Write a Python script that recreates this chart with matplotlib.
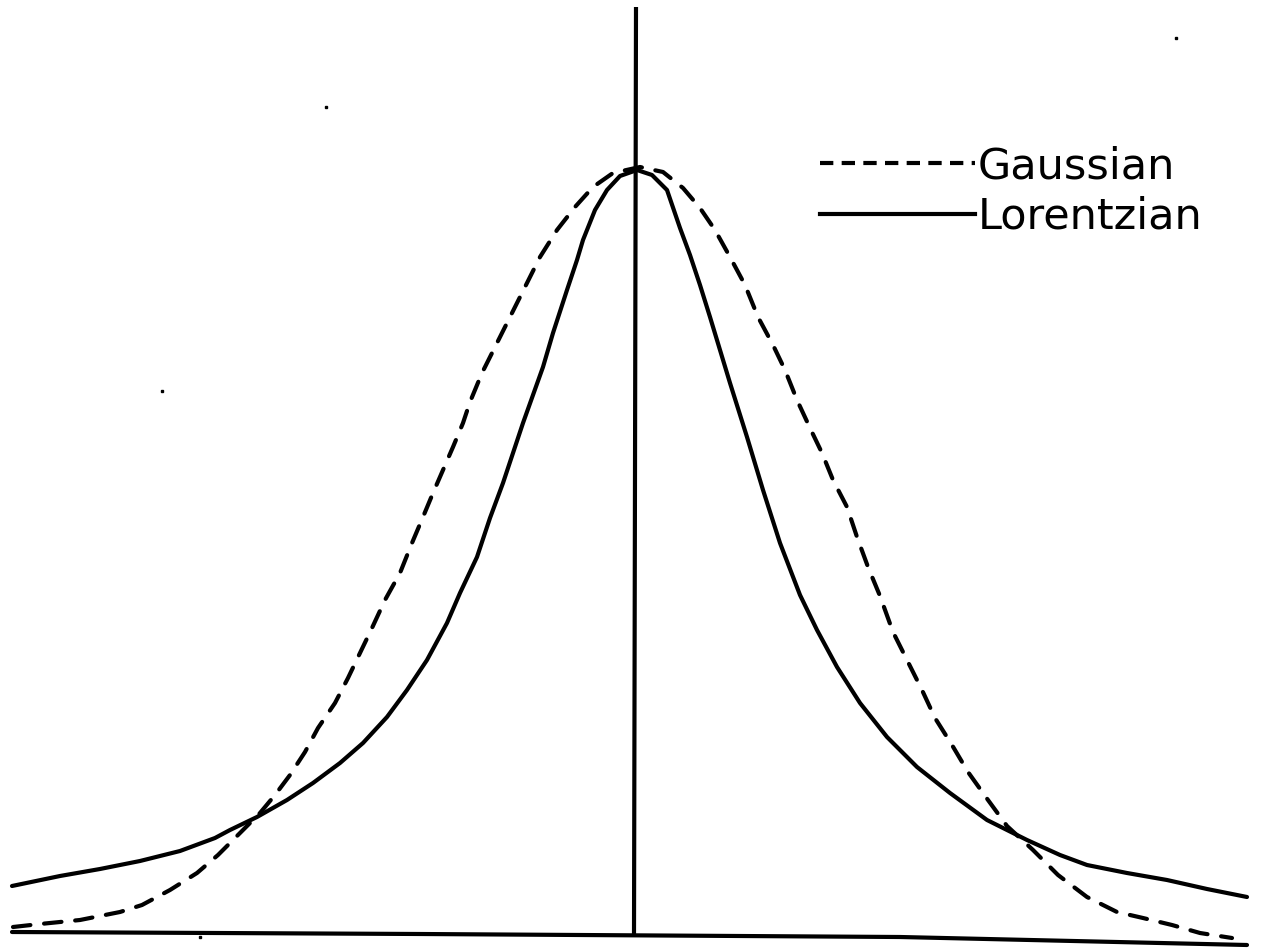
import numpy as np
import matplotlib
matplotlib.use("Agg")
import matplotlib.pyplot as plt
from matplotlib.lines import Line2D

# values (x to the right, y downwards, image units)
lor_x = [12, 60, 100, 140, 180, 215, 230, 257, 287, 313, 340, 363, 387, 407, 427,
         447, 460, 477, 490, 503, 523, 543, 553, 567, 577, 583, 595, 607, 620, 637,
         652, 667, 680, 690, 700, 710, 730, 747, 763, 780, 800, 817, 837, 860,
         887, 917, 950, 987, 1027, 1060, 1087, 1127, 1167, 1207, 1247]
lor_y = [886, 876, 869, 861, 851, 838, 830, 817, 800, 783, 763, 743, 717, 690, 660,
         623, 593, 557, 518, 483, 423, 367, 333, 290, 260, 240, 210, 190, 176, 170,
         175, 190, 228, 255, 285, 317, 383, 437, 490, 543, 595, 630, 667, 703,
         737, 767, 793, 820, 840, 855, 865, 873, 880, 889, 897]

gau_x = [13, 40, 60, 80, 100, 120, 142, 170, 197, 218, 238, 260, 275, 290, 305,
         318, 335, 348, 360, 372, 385, 400, 412, 423, 433, 443, 453, 463, 470, 482,
         495, 510, 527, 540, 557, 575, 593, 613, 640, 663, 683, 700, 715, 730, 745,
         758, 773, 785, 797, 810, 822, 833, 847, 857, 868, 880, 893, 907, 922, 935,
         952, 968, 988, 1007, 1033, 1058, 1087, 1117, 1143, 1172, 1200, 1232]
gau_y = [927, 924, 922, 920, 916, 912, 905, 890, 873, 855, 835, 813, 795, 775, 752,
         728, 703, 678, 653, 628, 600, 573, 543, 517, 493, 470, 447, 423, 402, 373,
         347, 317, 283, 257, 230, 207, 187, 173, 167, 172, 188, 208, 230, 257, 285,
         317, 345, 370, 400, 428, 453, 480, 507, 537, 567, 596, 632, 660, 690, 718,
         745, 772, 800, 826, 850, 875, 897, 912, 918, 925, 933, 938]

base_x = [12, 420, 900, 1247]
base_y = [932, 934, 937, 945]
axis_x = [636, 634]
axis_y = [7, 935]

specks_x = [1176, 326, 162, 200]
specks_y = [38, 107, 391, 937]

labels = ["Gaussian", "Lorentzian"]

fig = plt.figure(figsize=(12.66, 9.49), dpi=100)
ax = fig.add_axes([0, 0, 1, 1])
ax.set_xlim(0, 1266)
ax.set_ylim(949, 0)
ax.axis("off")

lw = 3.0
ax.plot(base_x, base_y, color="black", lw=lw, solid_capstyle="round")
ax.plot(axis_x, axis_y, color="black", lw=lw, solid_capstyle="butt")
ax.plot(gau_x, gau_y, color="black", lw=lw, ls=(0, (4.2, 3.3)),
        dash_capstyle="round")
ax.plot(lor_x, lor_y, color="black", lw=lw, solid_capstyle="round")
ax.plot(specks_x, specks_y, "s", color="black", ms=2.0)

# the legend in the drawing uses shorter dashes than the curve
handles = [Line2D([], [], color="black", lw=lw, ls=(0, (3.2, 2.0))),
           Line2D([], [], color="black", lw=lw)]
ax.legend(handles, labels, loc="upper left", bbox_to_anchor=(0.648, 0.847),
          frameon=False, fontsize=31, handlelength=3.6, handletextpad=0.05,
          labelspacing=0.2, borderpad=0, borderaxespad=0)

fig.savefig("out.png", dpi=100, facecolor="white")
